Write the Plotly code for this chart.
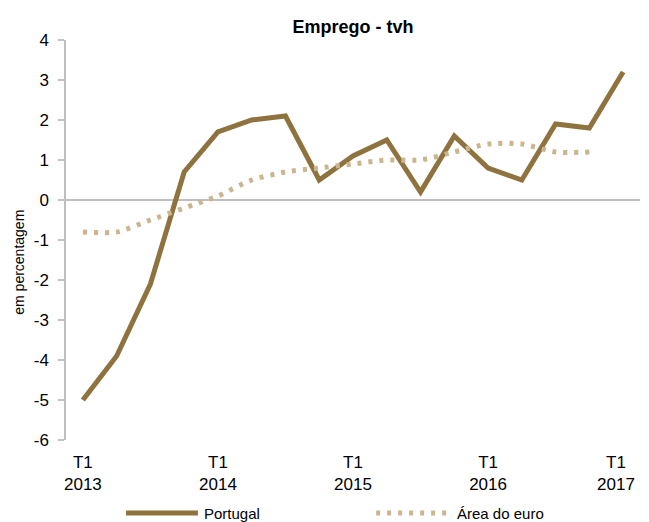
import plotly.graph_objects as go

quarters = [f"{y} T{q}" for y in range(2013, 2017) for q in range(1, 5)] + ["2017 T1"]
portugal = [-5.0, -3.9, -2.1, 0.7, 1.7, 2.0, 2.1, 0.5, 1.1, 1.5, 0.2, 1.6, 0.8, 0.5, 1.9, 1.8, 3.2]
area_euro = [-0.8, -0.8, -0.5, -0.2, 0.1, 0.5, 0.7, 0.8, 0.9, 1.0, 1.0, 1.2, 1.4, 1.4, 1.2, 1.2]
tick_labels = ["T1<br>2013", "T1<br>2014", "T1<br>2015", "T1<br>2016",
               "T1\u00a0\u00a0\u00a0<br>2017\u00a0\u00a0\u00a0"]
tick_positions = [quarters[i] for i in range(0, 17, 4)]
y_ticks = list(range(-6, 5))
y_tick_labels = [str(v) for v in y_ticks]

FONT = "Liberation Sans, Arial, sans-serif"
C_PT = "#8E733F"
C_EU = "#C9B590"
DOTS = "4px,7px"

W, H = 649, 522
L, R, T, B = 66, 0, 40, 82
PW, PH = W - L - R, H - T - B


def px(xp):
    return (xp - L) / PW


def py(yp):
    return (H - B - yp) / PH


fig = go.Figure()
fig.add_trace(go.Scatter(
    x=quarters, y=portugal, mode="lines", name="Portugal",
    line=dict(color=C_PT, width=5), showlegend=False,
))
fig.add_trace(go.Scatter(
    x=quarters[:len(area_euro)], y=area_euro, mode="lines", name="Área do euro",
    line=dict(color=C_EU, width=5, dash=DOTS, shape="spline", smoothing=0.7),
    showlegend=False,
))

# legend drawn by hand
LEG_Y = 513
fig.add_shape(type="line", xref="paper", yref="paper",
              x0=px(127), x1=px(200), y0=py(LEG_Y), y1=py(LEG_Y),
              line=dict(color=C_PT, width=5))
fig.add_shape(type="line", xref="paper", yref="paper",
              x0=px(381), x1=px(457), y0=py(LEG_Y), y1=py(LEG_Y),
              line=dict(color=C_EU, width=5, dash=DOTS))
fig.add_annotation(text="Portugal", xref="paper", yref="paper", x=px(204), y=py(LEG_Y),
                   xanchor="left", yanchor="middle", showarrow=False,
                   font=dict(size=15, family=FONT, color="#000000"))
fig.add_annotation(text="Área do euro", xref="paper", yref="paper", x=px(461), y=py(LEG_Y),
                   xanchor="left", yanchor="middle", showarrow=False,
                   font=dict(size=15, family=FONT, color="#000000"))
fig.add_annotation(text="em percentagem", xref="paper", yref="paper", x=px(18), y=py(262),
                   xanchor="center", yanchor="middle", textangle=-90, showarrow=False,
                   font=dict(size=14, family=FONT, color="#000000"))

fig.update_layout(
    width=W, height=H,
    margin=dict(l=L, r=R, t=T, b=B),
    paper_bgcolor="white", plot_bgcolor="white",
    font=dict(family=FONT, color="#000000", size=17),
    title=dict(text="<b>Emprego - tvh</b>", x=0.5, xref="paper", xanchor="center",
               y=1 - 27 / H, yanchor="middle", font=dict(size=18, family=FONT)),
    showlegend=False,
)
fig.update_xaxes(
    type="category", categoryorder="array", categoryarray=quarters,
    range=[-0.5, 16.5], showgrid=False, showline=False, zeroline=False,
    tickmode="array", tickvals=tick_positions, ticktext=tick_labels,
    ticks="", ticklabelstandoff=10, tickfont=dict(size=17, family=FONT),
)
fig.update_yaxes(
    range=[-6, 4], showgrid=False,
    tickmode="array", tickvals=y_ticks, ticktext=y_tick_labels,
    showline=True, linecolor="#BFBFBF", linewidth=1.5,
    ticks="outside", ticklen=6, tickcolor="#BFBFBF", tickwidth=1.5,
    zeroline=True, zerolinecolor="#BFBFBF", zerolinewidth=1.5,
    tickfont=dict(size=17, family=FONT), ticklabelstandoff=6,
)

fig.write_html("out.html", config={"displayModeBar": False},
               post_script="document.body.style.margin='0';document.body.style.padding='0';")
